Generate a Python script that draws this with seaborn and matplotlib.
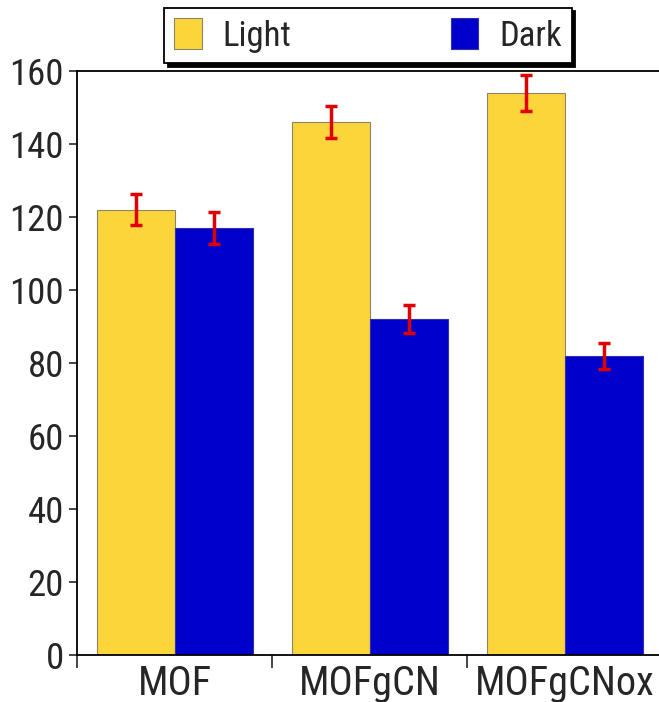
import pandas as pd
import matplotlib
matplotlib.use("Agg")
import matplotlib.pyplot as plt
import matplotlib.font_manager as fm
import seaborn as sns

# data
samples = ["MOF", "MOFgCN", "MOFgCNox"]
conditions = ["Light", "Dark"]
light_vals = [122, 146, 154]
dark_vals = [117, 92, 82]
light_err = [4.3, 4.4, 4.9]
dark_err = [4.4, 3.9, 3.6]

colors = ["#FCD53A", "#0000CD"]
edges = ["#8C8468", "#3030A8"]

df = pd.DataFrame({
    "sample": samples * 2,
    "condition": ["Light"] * 3 + ["Dark"] * 3,
    "value": light_vals + dark_vals,
})

sns.set_style("ticks")
names = {f.name for f in fm.fontManager.ttflist}
font = "Liberation Sans"
xfs, yfs, leg_fs = 23, 22, 21
for cand in ["Roboto Condensed", "Liberation Sans Narrow", "Arial Narrow"]:
    if cand in names:
        font = cand
        xfs, yfs, leg_fs = 29, 26.5, 25
        break
plt.rcParams["font.family"] = [font, "DejaVu Sans"]

fig = plt.figure(figsize=(6.59, 7.02), dpi=100)
ax = fig.add_axes([77 / 659, 47 / 702, 585 / 659, 584 / 702])

sns.barplot(data=df, x="sample", y="value", hue="condition", order=samples,
            hue_order=conditions, palette=colors, errorbar=None, width=0.8,
            saturation=1, legend=False, ax=ax)

for cont, ec, errs in zip(ax.containers, edges, [light_err, dark_err]):
    xs, ys = [], []
    for bar in cont:
        bar.set_edgecolor(ec)
        bar.set_linewidth(0.8)
        xs.append(bar.get_x() + bar.get_width() / 2)
        ys.append(bar.get_height())
    ax.errorbar(xs, ys, yerr=errs, fmt="none", ecolor="#E00000",
                elinewidth=2.5, capsize=4.5, capthick=2.5, zorder=5)

ax.set_xlim(-0.5, 2.5)
ax.set_ylim(0, 160)
ax.set_yticks(range(0, 161, 20))
ax.set_xticks([-0.5, 0.5, 1.5, 2.5], minor=True)
ax.set_xlabel("")
ax.set_ylabel("")

ax.tick_params(axis="x", which="major", length=0, pad=6.5, labelsize=xfs)
ax.tick_params(axis="x", which="minor", length=9.5, width=1.2, direction="out")
ax.tick_params(axis="y", length=5.5, width=1.2, pad=4, labelsize=yfs)

for side in ["left", "bottom", "top"]:
    ax.spines[side].set_linewidth(1.3)
    ax.spines[side].set_color("black")
ax.spines["right"].set_visible(False)

leg = fig.legend(ax.containers, conditions, loc="center", ncol=2,
                 bbox_to_anchor=(368 / 659, 1 - 35.5 / 702),
                 bbox_transform=fig.transFigure, fontsize=leg_fs,
                 handlelength=0.78, handleheight=1.0, handletextpad=0.6,
                 columnspacing=4.6, borderpad=0.3, borderaxespad=0,
                 fancybox=False, framealpha=1,
                 shadow={"color": "black", "alpha": 1, "ox": 2.5, "oy": -2.5})
leg.get_frame().set_edgecolor("black")
leg.get_frame().set_linewidth(1.3)

fig.savefig("out.png", dpi=100)
